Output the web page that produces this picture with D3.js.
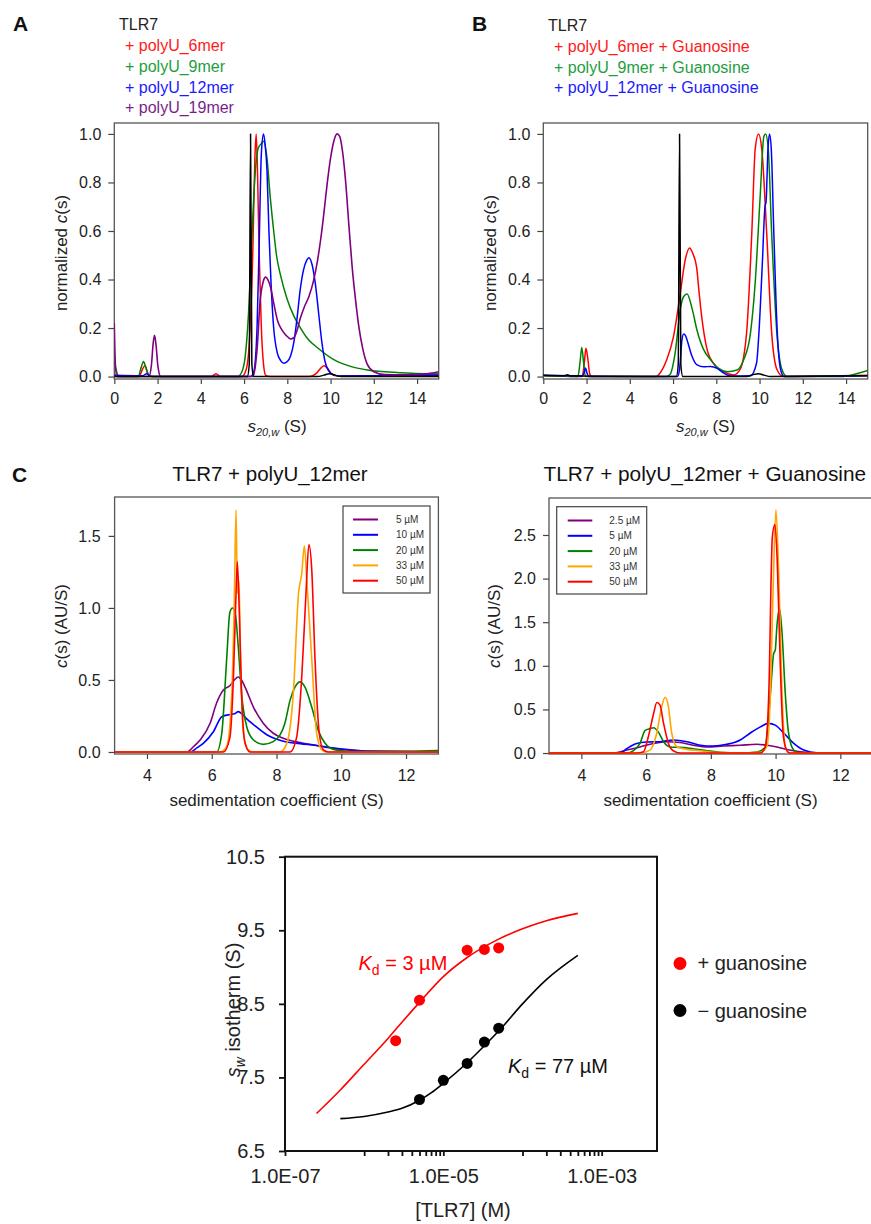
<!DOCTYPE html>
<html>
<head>
<meta charset="utf-8">
<script src="https://cdn.jsdelivr.net/npm/d3@7"></script>
<style>
  body { margin: 0; background: #fff; }
  svg { font-family: "Liberation Sans", Arial, sans-serif; display: block; }
</style>
</head>
<body>
<div id="chart"></div>
<script>
const WIDTH = 871;
const HEIGHT = 1224;

const RED = "#ff0000", GREEN = "#008000", BLUE = "#0000ff", PURPLE = "#800080", ORANGE = "#ffa500", BLACK = "#000000";

// ---- panel A : TLR7 + polyU of different length (normalized c(s)) ----
const A_LEGEND = ["+ polyU_6mer", "+ polyU_9mer", "+ polyU_12mer", "+ polyU_19mer"];
const A_BLACK = [[0,0],[6.15,0],[6.24,0.05],[6.3,1.0],[6.36,0.05],[6.45,0],[9.4,0],[9.7,0.006],[9.95,0.012],[10.2,0.006],[10.5,0],[15,0]];
const A_RED = [[0,0.01],[0.1,0],[1.15,0],[1.3,0.03],[1.42,0.045],[1.55,0.01],[1.7,0],[4.5,0],[4.7,0.012],[4.9,0],[5.9,0],[6.1,0.03],[6.25,0.15],[6.4,0.5],[6.5,0.9],[6.56,1.0],[6.62,0.85],[6.7,0.5],[6.8,0.2],[6.9,0.05],[7.0,0.005],[7.2,0],[9.0,0],[9.3,0.01],[9.55,0.035],[9.7,0.045],[9.85,0.035],[10.05,0.01],[10.3,0.002],[12,0.003],[15,0.01]];
const A_GREEN = [[0,0.06],[0.08,0.03],[0.2,0],[1.1,0],[1.25,0.04],[1.35,0.062],[1.45,0.04],[1.6,0.005],[1.8,0],[5.7,0],[5.9,0.02],[6.05,0.08],[6.2,0.25],[6.35,0.55],[6.5,0.82],[6.65,0.94],[6.8,0.96],[6.9,0.97],[7.06,0.9],[7.2,0.75],[7.37,0.6],[7.5,0.5],[7.68,0.42],[7.99,0.32],[8.3,0.25],[8.61,0.2],[9.0,0.15],[9.38,0.12],[10.15,0.07],[11,0.04],[11.7,0.027],[13.2,0.016],[15,0.011]];
const A_BLUE = [[0,0.005],[1.3,0.003],[1.5,0.012],[1.7,0],[6.3,0],[6.45,0.02],[6.6,0.2],[6.7,0.55],[6.8,0.92],[6.9,1.0],[6.97,0.96],[7.06,0.85],[7.15,0.6],[7.25,0.38],[7.37,0.2],[7.53,0.1],[7.7,0.065],[7.84,0.055],[8.0,0.062],[8.15,0.085],[8.3,0.14],[8.45,0.24],[8.6,0.36],[8.75,0.44],[8.9,0.48],[9.0,0.49],[9.15,0.46],[9.3,0.38],[9.45,0.26],[9.6,0.14],[9.75,0.06],[9.9,0.025],[10.15,0.007],[10.5,0.002],[15,0.005]];
const A_PURPLE = [[0,0.22],[0.05,0.05],[0.12,0],[1.6,0],[1.72,0.05],[1.8,0.14],[1.86,0.17],[1.93,0.13],[2.02,0.04],[2.15,0],[6.4,0],[6.5,0.03],[6.6,0.11],[6.75,0.32],[6.88,0.39],[7.0,0.41],[7.1,0.4],[7.22,0.37],[7.4,0.29],[7.55,0.23],[7.7,0.2],[7.85,0.18],[8.0,0.165],[8.15,0.155],[8.3,0.16],[8.45,0.19],[8.6,0.24],[8.8,0.29],[9.0,0.33],[9.2,0.39],[9.4,0.48],[9.55,0.57],[9.7,0.68],[9.85,0.8],[10.0,0.9],[10.15,0.97],[10.3,1.0],[10.42,0.99],[10.55,0.93],[10.7,0.8],[10.85,0.62],[11.0,0.45],[11.15,0.32],[11.3,0.21],[11.5,0.11],[11.7,0.05],[12.0,0.02],[12.5,0.008],[13.5,0.007],[14.3,0.01],[15,0.02]];

// ---- panel B : + guanosine ----
const B_LEGEND = ["+ polyU_6mer + Guanosine", "+ polyU_9mer + Guanosine", "+ polyU_12mer + Guanosine"];
const B_BLACK = [[0,0.005],[1.0,0.003],[1.12,0.008],[1.25,0.002],[6.15,0],[6.24,0.05],[6.3,1.0],[6.36,0.05],[6.45,0],[9.4,0],[9.7,0.008],[9.95,0.012],[10.2,0.006],[10.5,0],[15,0.003]];
const B_RED = [[0,0.003],[1.8,0],[1.9,0.06],[1.97,0.117],[2.05,0.08],[2.15,0.01],[2.25,0],[5.2,0],[5.4,0.015],[5.71,0.07],[6.02,0.165],[6.33,0.34],[6.56,0.48],[6.77,0.53],[6.9,0.51],[7.09,0.45],[7.2,0.35],[7.32,0.25],[7.55,0.12],[7.86,0.055],[8.33,0.02],[8.8,0.007],[9.1,0.03],[9.4,0.18],[9.64,0.59],[9.8,0.94],[9.95,1.0],[10.1,0.94],[10.33,0.59],[10.56,0.18],[10.8,0.03],[11.1,0],[15,0.005]];
const B_GREEN = [[0,0.003],[1.6,0],[1.7,0.06],[1.78,0.12],[1.86,0.06],[1.95,0],[5.7,0],[5.87,0.01],[6.1,0.1],[6.34,0.28],[6.49,0.33],[6.65,0.34],[6.88,0.28],[7.11,0.19],[7.42,0.11],[7.73,0.07],[8.11,0.034],[8.5,0.02],[8.96,0.027],[9.27,0.07],[9.58,0.18],[9.8,0.39],[10.02,0.73],[10.2,0.99],[10.28,1.0],[10.4,0.94],[10.56,0.59],[10.8,0.18],[11.03,0.03],[11.27,0],[13.8,0],[14.4,0.01],[15,0.025]];
const B_BLUE = [[0,0.005],[1.8,0.003],[1.9,0.02],[1.95,0.035],[2.02,0.015],[2.1,0],[6.2,0],[6.3,0.03],[6.41,0.15],[6.49,0.175],[6.57,0.17],[6.65,0.15],[6.88,0.083],[7.11,0.048],[7.42,0.04],[7.73,0.042],[8.04,0.034],[8.35,0.014],[8.66,0.002],[9.58,0.003],[9.86,0.055],[9.97,0.18],[10.12,0.45],[10.25,0.7],[10.3,0.72],[10.39,0.94],[10.46,1.0],[10.54,0.94],[10.66,0.59],[10.82,0.18],[10.97,0.03],[11.13,0],[15,0.003]];

// ---- panel C left : TLR7 + polyU_12mer, concentration series ----
const CL_LABELS = ["5 µM", "10 µM", "20 µM", "33 µM", "50 µM"];
const CL_5 = [[3,0],[5.23,0],[5.45,0.04],[5.64,0.083],[5.95,0.2],[6.15,0.34],[6.36,0.43],[6.56,0.46],[6.7,0.5],[6.82,0.52],[6.92,0.5],[7.03,0.45],[7.29,0.31],[7.59,0.2],[7.9,0.13],[8.21,0.095],[8.73,0.065],[9.24,0.045],[9.76,0.025],[10.3,0.012],[10.79,0.005],[13,0.002]];
const CL_10 = [[3,0],[5.33,0],[5.55,0.03],[5.74,0.06],[6.05,0.14],[6.31,0.245],[6.56,0.26],[6.7,0.265],[6.82,0.28],[6.95,0.26],[7.08,0.23],[7.29,0.19],[7.7,0.12],[8.21,0.075],[8.73,0.058],[9.24,0.045],[9.76,0.028],[10.27,0.015],[10.8,0.006],[13,0.001]];
const CL_20 = [[3,0],[6.15,0],[6.31,0.13],[6.46,0.64],[6.56,0.97],[6.64,1.0],[6.72,0.97],[6.82,0.73],[6.92,0.41],[7.08,0.175],[7.29,0.083],[7.59,0.053],[7.9,0.072],[8.11,0.118],[8.26,0.2],[8.42,0.36],[8.57,0.45],[8.73,0.487],[8.88,0.45],[9.09,0.31],[9.29,0.15],[9.5,0.06],[9.76,0.018],[10.27,0.003],[12,0.005],[13,0.01]];
const CL_33 = [[3,0],[6.25,0],[6.46,0.037],[6.62,0.41],[6.7,1.1],[6.75,1.68],[6.79,1.1],[6.84,1.19],[6.89,0.64],[6.98,0.13],[7.13,0.014],[7.29,0],[8.11,0],[8.32,0.06],[8.52,0.41],[8.68,1.1],[8.78,1.24],[8.86,1.43],[8.93,1.21],[9.09,0.64],[9.24,0.13],[9.4,0.014],[9.55,0],[13,0]];
const CL_50 = [[3,0],[6.36,0],[6.56,0.1],[6.67,0.52],[6.75,1.1],[6.79,1.32],[6.85,0.98],[6.92,0.41],[7.03,0.06],[7.18,0],[8.42,0],[8.62,0.1],[8.78,0.52],[8.91,1.1],[9.0,1.44],[9.09,1.26],[9.19,0.64],[9.32,0.13],[9.45,0.014],[9.6,0],[13,0]];

// ---- panel C right : TLR7 + polyU_12mer + Guanosine ----
const CR_LABELS = ["2.5 µM", "5 µM", "20 µM", "33 µM", "50 µM"];
const CR_2_5 = [[3,0],[4.99,0],[5.4,0.034],[5.81,0.07],[6.23,0.11],[6.64,0.13],[7.05,0.12],[7.46,0.09],[7.88,0.07],[8.39,0.08],[8.91,0.09],[9.42,0.1],[9.73,0.09],[10.04,0.07],[10.35,0.04],[10.76,0.015],[11.48,0],[13,0]];
const CR_5 = [[3,0],[5.2,0],[5.4,0.05],[5.71,0.11],[6.02,0.126],[6.43,0.13],[6.85,0.15],[7.26,0.13],[7.67,0.09],[8.08,0.08],[8.49,0.1],[8.91,0.15],[9.22,0.23],[9.53,0.3],[9.78,0.34],[9.99,0.32],[10.25,0.23],[10.56,0.11],[10.87,0.034],[11.28,0.004],[13,0]];
const CR_20 = [[3,0],[5.4,0],[5.61,0.027],[5.81,0.11],[5.97,0.26],[6.12,0.28],[6.23,0.29],[6.38,0.24],[6.54,0.13],[6.74,0.07],[7.05,0.065],[7.46,0.05],[7.88,0.027],[8.29,0.008],[8.91,0],[9.42,0.01],[9.68,0.07],[9.84,0.68],[9.94,1.14],[9.99,1.18],[10.04,1.45],[10.12,1.66],[10.2,1.37],[10.3,0.68],[10.4,0.23],[10.56,0.034],[10.76,0],[13,0]];
const CR_33 = [[3,0],[5.81,0],[6.12,0.034],[6.33,0.23],[6.48,0.53],[6.59,0.64],[6.69,0.53],[6.79,0.23],[6.95,0.073],[7.26,0.042],[7.67,0.027],[8.08,0.008],[8.91,0],[9.53,0.008],[9.73,0.07],[9.84,0.68],[9.92,1.83],[10.01,2.79],[10.1,2.02],[10.2,0.68],[10.3,0.07],[10.45,0],[13,0]];
const CR_50 = [[3,0],[5.71,0],[5.92,0.015],[6.07,0.19],[6.23,0.45],[6.33,0.58],[6.43,0.55],[6.54,0.34],[6.69,0.11],[6.85,0.023],[7.05,0],[9.53,0],[9.68,0.07],[9.79,0.68],[9.9,2.48],[9.98,2.62],[10.05,2.21],[10.14,1.07],[10.24,0.19],[10.37,0.015],[10.45,0],[13,0]];

// ---- bottom panel : sw isotherm ----
const ISO_CONC_PLUS = [2.5e-6, 5e-6, 2e-5, 3.3e-5, 5e-5];
const ISO_SW_PLUS = [8.0, 8.55, 9.23, 9.24, 9.26];
const ISO_CONC_MINUS = [5e-6, 1e-5, 2e-5, 3.3e-5, 5e-5];
const ISO_SW_MINUS = [7.2, 7.46, 7.69, 7.98, 8.17];
const FIT_PLUS = [[2.5e-7,7.01],[5e-7,7.33],[1e-6,7.68],[2e-6,8.03],[3e-6,8.25],[5e-6,8.52],[1e-5,8.87],[2e-5,9.13],[5e-5,9.38],[1e-4,9.52],[2e-4,9.63],[5e-4,9.73]];
const FIT_MINUS = [[5e-7,6.94],[1e-6,6.97],[2e-6,7.03],[3e-6,7.08],[5e-6,7.19],[7e-6,7.29],[1e-5,7.42],[2e-5,7.7],[3.3e-5,7.93],[5e-5,8.13],[1e-4,8.5],[2e-4,8.83],[5e-4,9.16]];
const ISO_Y_TICKS = [6.5, 7.5, 8.5, 9.5, 10.5];
const ISO_X_TICKS = [1e-7, 1e-6, 2e-6, 3e-6, 4e-6, 5e-6, 6e-6, 7e-6, 8e-6, 9e-6, 1e-5,
                     1e-4, 2e-4, 3e-4, 4e-4, 5e-4, 6e-4, 7e-4, 8e-4, 9e-4, 1e-3];
const ISO_X_LABELED = [1e-7, 1e-5, 1e-3];

const AB_X_TICKS = [0, 2, 4, 6, 8, 10, 12, 14];
const AB_Y_TICKS = [0, 0.2, 0.4, 0.6, 0.8, 1.0];
const C_X_TICKS = [4, 6, 8, 10, 12];
const CL_Y_TICKS = [0, 0.5, 1.0, 1.5];
const CR_Y_TICKS = [0, 0.5, 1.0, 1.5, 2.0, 2.5];

const SVG = d3.select("#chart").append("svg")
  .attr("width", WIDTH)
  .attr("height", HEIGHT);

SVG.append("rect").attr("width", WIDTH).attr("height", HEIGHT).attr("fill", "#fff");

// frame with box, ticks and tick labels
function makePanel(cfg) {
  const x = d3.scaleLinear().domain(cfg.xDomain).range([cfg.left, cfg.right]);
  const y = d3.scaleLinear().domain(cfg.yDomain).range([cfg.bottom, cfg.top]);

  SVG.append("clipPath").attr("id", "clip" + cfg.id)
    .append("rect")
    .attr("x", cfg.left).attr("y", cfg.top)
    .attr("width", cfg.right - cfg.left).attr("height", cfg.bottom - cfg.top);

  const gx = SVG.append("g")
    .attr("transform", "translate(0," + cfg.bottom + ")")
    .call(d3.axisBottom(x).tickValues(cfg.xTicks).tickSize(5).tickPadding(cfg.xPad).tickFormat(d3.format("d")));

  const gy = SVG.append("g")
    .attr("transform", "translate(" + cfg.left + ",0)")
    .call(d3.axisLeft(y).tickValues(cfg.yTicks).tickSize(6).tickPadding(cfg.yPad).tickFormat(d3.format(".1f")));

  [gx, gy].forEach((g) => {
    g.select(".domain").remove();
    g.selectAll(".tick line").attr("stroke", "#444").attr("stroke-width", 1.2);
    g.selectAll(".tick text").attr("font-size", "16px").attr("fill", "#222")
      .attr("font-family", "Liberation Sans, Arial, sans-serif");
  });

  SVG.append("rect")
    .attr("x", cfg.left).attr("y", cfg.top)
    .attr("width", cfg.right - cfg.left).attr("height", cfg.bottom - cfg.top)
    .attr("fill", "none").attr("stroke", "#555").attr("stroke-width", 1.3);

  const plot = SVG.append("g").attr("clip-path", "url(#clip" + cfg.id + ")");
  return { x: x, y: y, plot: plot };
}

function drawLine(p, data, color, width) {
  p.plot.append("path")
    .datum(data)
    .attr("fill", "none")
    .attr("stroke", color)
    .attr("stroke-width", width)
    .attr("stroke-linejoin", "round")
    .attr("d", d3.line()
      .x((d) => p.x(d[0]))
      .y((d) => p.y(d[1]))
      .curve(d3.curveMonotoneX));
}

function panelLetter(txt, x, y) {
  SVG.append("text").attr("x", x).attr("y", y)
    .attr("font-size", "21px").attr("font-weight", "bold").attr("fill", "#111")
    .text(txt);
}

// s20,w (S) axis label
function sLabel(cx, y) {
  const t = SVG.append("text").attr("x", cx).attr("y", y)
    .attr("text-anchor", "middle").attr("font-size", "17px").attr("fill", "#222");
  t.append("tspan").attr("font-style", "italic").text("s");
  t.append("tspan").attr("font-style", "italic").attr("font-size", "11px").attr("dy", 4).text("20,w");
  t.append("tspan").attr("dy", -4).text(" (S)");
}

function normLabel(cx, cy) {
  const t = SVG.append("text")
    .attr("transform", "translate(" + cx + "," + cy + ") rotate(-90)")
    .attr("text-anchor", "middle").attr("font-size", "17px").attr("fill", "#222");
  t.append("tspan").text("normalized ");
  t.append("tspan").attr("font-style", "italic").text("c");
  t.append("tspan").text("(s)");
}

function csLabel(cx, cy) {
  const t = SVG.append("text")
    .attr("transform", "translate(" + cx + "," + cy + ") rotate(-90)")
    .attr("text-anchor", "middle").attr("font-size", "17px").attr("fill", "#222");
  t.append("tspan").attr("font-style", "italic").text("c");
  t.append("tspan").text("(s) (AU/S)");
}

// ================= Panel A =================
panelLetter("A", 13, 31);
SVG.append("text").attr("x", 119).attr("y", 30).attr("font-size", "16px").attr("fill", "#222").text("TLR7");
const A_TEXT_COLORS = ["#ff1a1a", "#1e9e40", "#1a1aff", "#7a1f8a"];
SVG.selectAll(".legA").data(A_LEGEND).enter().append("text")
  .attr("x", 125).attr("y", (d, i) => 51 + i * 20.8)
  .attr("font-size", "16px").attr("fill", (d, i) => A_TEXT_COLORS[i])
  .text((d) => d);

const PA = makePanel({ id: "A", left: 114.3, right: 438.7, top: 123, bottom: 379,
  xDomain: [0, 15], yDomain: [-0.01, 1.045], xTicks: AB_X_TICKS, yTicks: AB_Y_TICKS, xPad: 9, yPad: 7 });
drawLine(PA, A_RED, RED, 1.5);
drawLine(PA, A_GREEN, GREEN, 1.5);
drawLine(PA, A_BLUE, BLUE, 1.5);
drawLine(PA, A_PURPLE, PURPLE, 1.6);
drawLine(PA, A_BLACK, BLACK, 1.5);
sLabel(277, 432);
normLabel(67, 253);

// ================= Panel B =================
panelLetter("B", 472, 31);
SVG.append("text").attr("x", 548).attr("y", 31).attr("font-size", "16px").attr("fill", "#222").text("TLR7");
const B_TEXT_COLORS = ["#ff1a1a", "#1e9e40", "#1a1aff"];
SVG.selectAll(".legB").data(B_LEGEND).enter().append("text")
  .attr("x", 554).attr("y", (d, i) => 52 + i * 20.7)
  .attr("font-size", "16px").attr("fill", (d, i) => B_TEXT_COLORS[i])
  .text((d) => d);

const PB = makePanel({ id: "B", left: 543.3, right: 867.7, top: 123, bottom: 379,
  xDomain: [0, 15], yDomain: [-0.01, 1.045], xTicks: AB_X_TICKS, yTicks: AB_Y_TICKS, xPad: 9, yPad: 7 });
drawLine(PB, B_RED, RED, 1.5);
drawLine(PB, B_GREEN, GREEN, 1.5);
drawLine(PB, B_BLUE, BLUE, 1.5);
drawLine(PB, B_BLACK, BLACK, 1.5);
sLabel(705.5, 432);
normLabel(496, 253);

// ================= Panel C left =================
panelLetter("C", 12, 482);
SVG.append("text").attr("x", 270).attr("y", 481).attr("text-anchor", "middle")
  .attr("font-size", "20.5px").attr("fill", "#111").text("TLR7 + polyU_12mer");

const C_COLORS = [PURPLE, BLUE, GREEN, ORANGE, RED];

const PCL = makePanel({ id: "CL", left: 114.6, right: 438.4, top: 497, bottom: 754,
  xDomain: [3, 13], yDomain: [-0.014, 1.77], xTicks: C_X_TICKS, yTicks: CL_Y_TICKS, xPad: 11, yPad: 8 });
[CL_5, CL_10, CL_20, CL_33, CL_50].forEach((s, i) => drawLine(PCL, s, C_COLORS[i], 1.6));

SVG.append("text").attr("x", 276.5).attr("y", 806).attr("text-anchor", "middle")
  .attr("font-size", "17px").attr("fill", "#222").text("sedimentation coefficient (S)");
csLabel(67, 626);

function cLegend(labels, bx, by, bw, bh, sx1, sx2, tx, row0, step) {
  SVG.append("rect").attr("x", bx).attr("y", by).attr("width", bw).attr("height", bh)
    .attr("fill", "#fff").attr("stroke", "#444").attr("stroke-width", 1.2);
  labels.forEach((lab, i) => {
    const yy = row0 + i * step;
    SVG.append("line").attr("x1", sx1).attr("x2", sx2).attr("y1", yy).attr("y2", yy)
      .attr("stroke", C_COLORS[i]).attr("stroke-width", 2);
    SVG.append("text").attr("x", tx).attr("y", yy + 3.6)
      .attr("font-size", "10px").attr("fill", "#333").text(lab);
  });
}
cLegend(CL_LABELS, 343, 506, 87, 87, 353, 378, 396, 519.5, 15.3);

// ================= Panel C right =================
SVG.append("text").attr("x", 543.5).attr("y", 481)
  .attr("font-size", "20.8px").attr("fill", "#111").text("TLR7 + polyU_12mer + Guanosine");

const PCR = makePanel({ id: "CR", left: 549, right: 872.7, top: 498, bottom: 754,
  xDomain: [3, 13], yDomain: [-0.011, 2.924], xTicks: C_X_TICKS, yTicks: CR_Y_TICKS, xPad: 11, yPad: 7 });
[CR_2_5, CR_5, CR_20, CR_33, CR_50].forEach((s, i) => drawLine(PCR, s, C_COLORS[i], 1.6));

SVG.append("text").attr("x", 710.5).attr("y", 806).attr("text-anchor", "middle")
  .attr("font-size", "17px").attr("fill", "#222").text("sedimentation coefficient (S)");
csLabel(500, 626);
cLegend(CR_LABELS, 556.7, 506.7, 90, 87.3, 567.7, 592.3, 609.3, 520.5, 15.3);

// ================= Bottom isotherm panel =================
const ISO_LEFT = 285, ISO_RIGHT = 657, ISO_TOP = 856.7, ISO_BOTTOM = 1151;

const X_ISO = d3.scaleLog().domain([1e-7, 5e-3]).range([ISO_LEFT, ISO_RIGHT]);
const Y_ISO = d3.scaleLinear().domain([6.5, 10.5]).range([ISO_BOTTOM, ISO_TOP]);

const isoFmt = (d) => {
  if (!ISO_X_LABELED.some((v) => Math.abs(v - d) / v < 1e-6)) return "";
  const e = Math.round(Math.log10(d));
  return "1.0E-" + String(-e).padStart(2, "0");
};

const GX_ISO = SVG.append("g")
  .attr("transform", "translate(0," + ISO_BOTTOM + ")")
  .call(d3.axisBottom(X_ISO).tickValues(ISO_X_TICKS).tickSize(5).tickPadding(13).tickFormat(isoFmt));
const GY_ISO = SVG.append("g")
  .attr("transform", "translate(" + ISO_LEFT + ",0)")
  .call(d3.axisLeft(Y_ISO).tickValues(ISO_Y_TICKS).tickSize(6).tickPadding(14).tickFormat(d3.format(".1f")));
[GX_ISO, GY_ISO].forEach((g) => {
  g.select(".domain").remove();
  g.selectAll(".tick line").attr("stroke", "#111").attr("stroke-width", 1.8);
  g.selectAll(".tick text").attr("font-size", "20px").attr("fill", "#222")
    .attr("font-family", "Liberation Sans, Arial, sans-serif");
});

SVG.append("rect")
  .attr("x", ISO_LEFT).attr("y", ISO_TOP)
  .attr("width", ISO_RIGHT - ISO_LEFT).attr("height", ISO_BOTTOM - ISO_TOP)
  .attr("fill", "none").attr("stroke", "#111").attr("stroke-width", 2);

const ISO_LINE = d3.line()
  .x((d) => X_ISO(d[0]))
  .y((d) => Y_ISO(d[1]))
  .curve(d3.curveMonotoneX);

SVG.append("path").datum(FIT_PLUS).attr("fill", "none").attr("stroke", RED)
  .attr("stroke-width", 1.6).attr("d", ISO_LINE);
SVG.append("path").datum(FIT_MINUS).attr("fill", "none").attr("stroke", BLACK)
  .attr("stroke-width", 1.6).attr("d", ISO_LINE);

SVG.selectAll(".dotPlus").data(ISO_CONC_PLUS).enter().append("circle")
  .attr("cx", (d) => X_ISO(d))
  .attr("cy", (d, i) => Y_ISO(ISO_SW_PLUS[i]))
  .attr("r", 5.5).attr("fill", RED);
SVG.selectAll(".dotMinus").data(ISO_CONC_MINUS).enter().append("circle")
  .attr("cx", (d) => X_ISO(d))
  .attr("cy", (d, i) => Y_ISO(ISO_SW_MINUS[i]))
  .attr("r", 5.5).attr("fill", BLACK);

function kdLabel(x, y, color, rest) {
  const t = SVG.append("text").attr("x", x).attr("y", y).attr("font-size", "20px").attr("fill", color);
  t.append("tspan").attr("font-style", "italic").text("K");
  t.append("tspan").attr("font-size", "14px").attr("dy", 5).text("d");
  t.append("tspan").attr("dy", -5).text(rest);
}
kdLabel(358.5, 970, RED, " = 3 µM");
kdLabel(508, 1073, "#111", " = 77 µM");

// y axis label
const YL = SVG.append("text")
  .attr("transform", "translate(240,1010) rotate(-90)")
  .attr("text-anchor", "middle").attr("font-size", "20px").attr("fill", "#222");
YL.append("tspan").attr("font-style", "italic").text("s");
YL.append("tspan").attr("font-style", "italic").attr("font-size", "14px").attr("dy", 5).text("w");
YL.append("tspan").attr("dy", -5).text(" isotherm (S)");

SVG.append("text").attr("x", 463).attr("y", 1217).attr("text-anchor", "middle")
  .attr("font-size", "20px").attr("fill", "#222").text("[TLR7] (M)");

// legend
SVG.append("circle").attr("cx", 680).attr("cy", 963.5).attr("r", 6.5).attr("fill", RED);
SVG.append("text").attr("x", 697.5).attr("y", 970).attr("font-size", "20px").attr("fill", "#222").text("+ guanosine");
SVG.append("circle").attr("cx", 680).attr("cy", 1010.5).attr("r", 6.5).attr("fill", BLACK);
SVG.append("text").attr("x", 697.5).attr("y", 1018).attr("font-size", "20px").attr("fill", "#222").text("\u2212 guanosine");
</script>
</body>
</html>
